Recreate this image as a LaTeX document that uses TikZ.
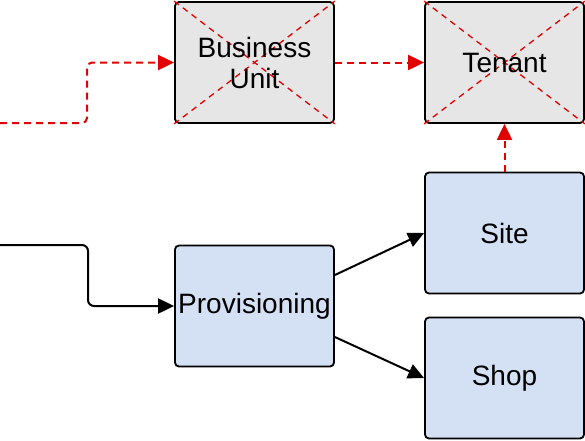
\documentclass[tikz,border=0pt]{standalone}
\usepackage{fontspec}
\setmainfont{Liberation Sans}
\usetikzlibrary{arrows.meta}
\definecolor{grayfill}{HTML}{E6E6E6}
\definecolor{bluefill}{HTML}{D4E1F5}
\definecolor{redline}{HTML}{E00000}
\tikzset{
  box/.style={draw=black, line width=1.8pt, rounded corners=4pt, minimum width=159pt, minimum height=121pt, inner sep=0pt, align=center, font=\fontsize{28}{31}\selectfont},
  graybox/.style={box, fill=grayfill},
  bluebox/.style={box, fill=bluefill},
  xcross/.style={draw=redline, line width=1.3pt, dash pattern=on 6pt off 5pt},
  redconn/.style={draw=redline, line width=2pt, dash pattern=on 7pt off 5pt, rounded corners=5pt, -{Triangle[length=16pt,width=15pt]}},
  blackconn/.style={draw=black, line width=2pt, rounded corners=6pt, -{Triangle[length=16pt,width=15pt]}}
}
\begin{document}
\begin{tikzpicture}[x=1pt,y=-1pt]
\useasboundingbox (0,0) rectangle (585,440);
\node[graybox] (bu) at (254.5,62.5) {};
\node[graybox] (ten) at (504.5,62.5) {};
\draw[xcross] (bu.north west) -- (bu.south east);
\draw[xcross] (bu.south west) -- (bu.north east);
\draw[xcross] (ten.north west) -- (ten.south east);
\draw[xcross] (ten.south west) -- (ten.north east);
\node[font=\fontsize{28}{31}\selectfont, align=center] (butext) at (254.5,62.5) {Business\\Unit};
\node[font=\fontsize{28}{31}\selectfont] (tentext) at (504.5,62.5) {Tenant};
\node[bluebox] (site) at (504.5,233) {Site};
\node[bluebox] (shop) at (504.5,378) {Shop};
\node[bluebox] (prov) at (254.5,306) {Provisioning};
\coordinate (rin) at (0,123);
\coordinate (bin) at (0,245);
\draw[redconn] (rin) -- (87,123) -- (87,62.5) -- (bu.west);
\draw[redconn] (bu.east) -- (ten.west);
\draw[redconn] (site.north) -- (ten.south);
\draw[blackconn] (bin) -- (88,245) -- (88,306) -- (prov.west);
\draw[blackconn] ([yshift=31pt]prov.east) -- (site.west);
\draw[blackconn] ([yshift=-31pt]prov.east) -- (shop.west);
\end{tikzpicture}
\end{document}
